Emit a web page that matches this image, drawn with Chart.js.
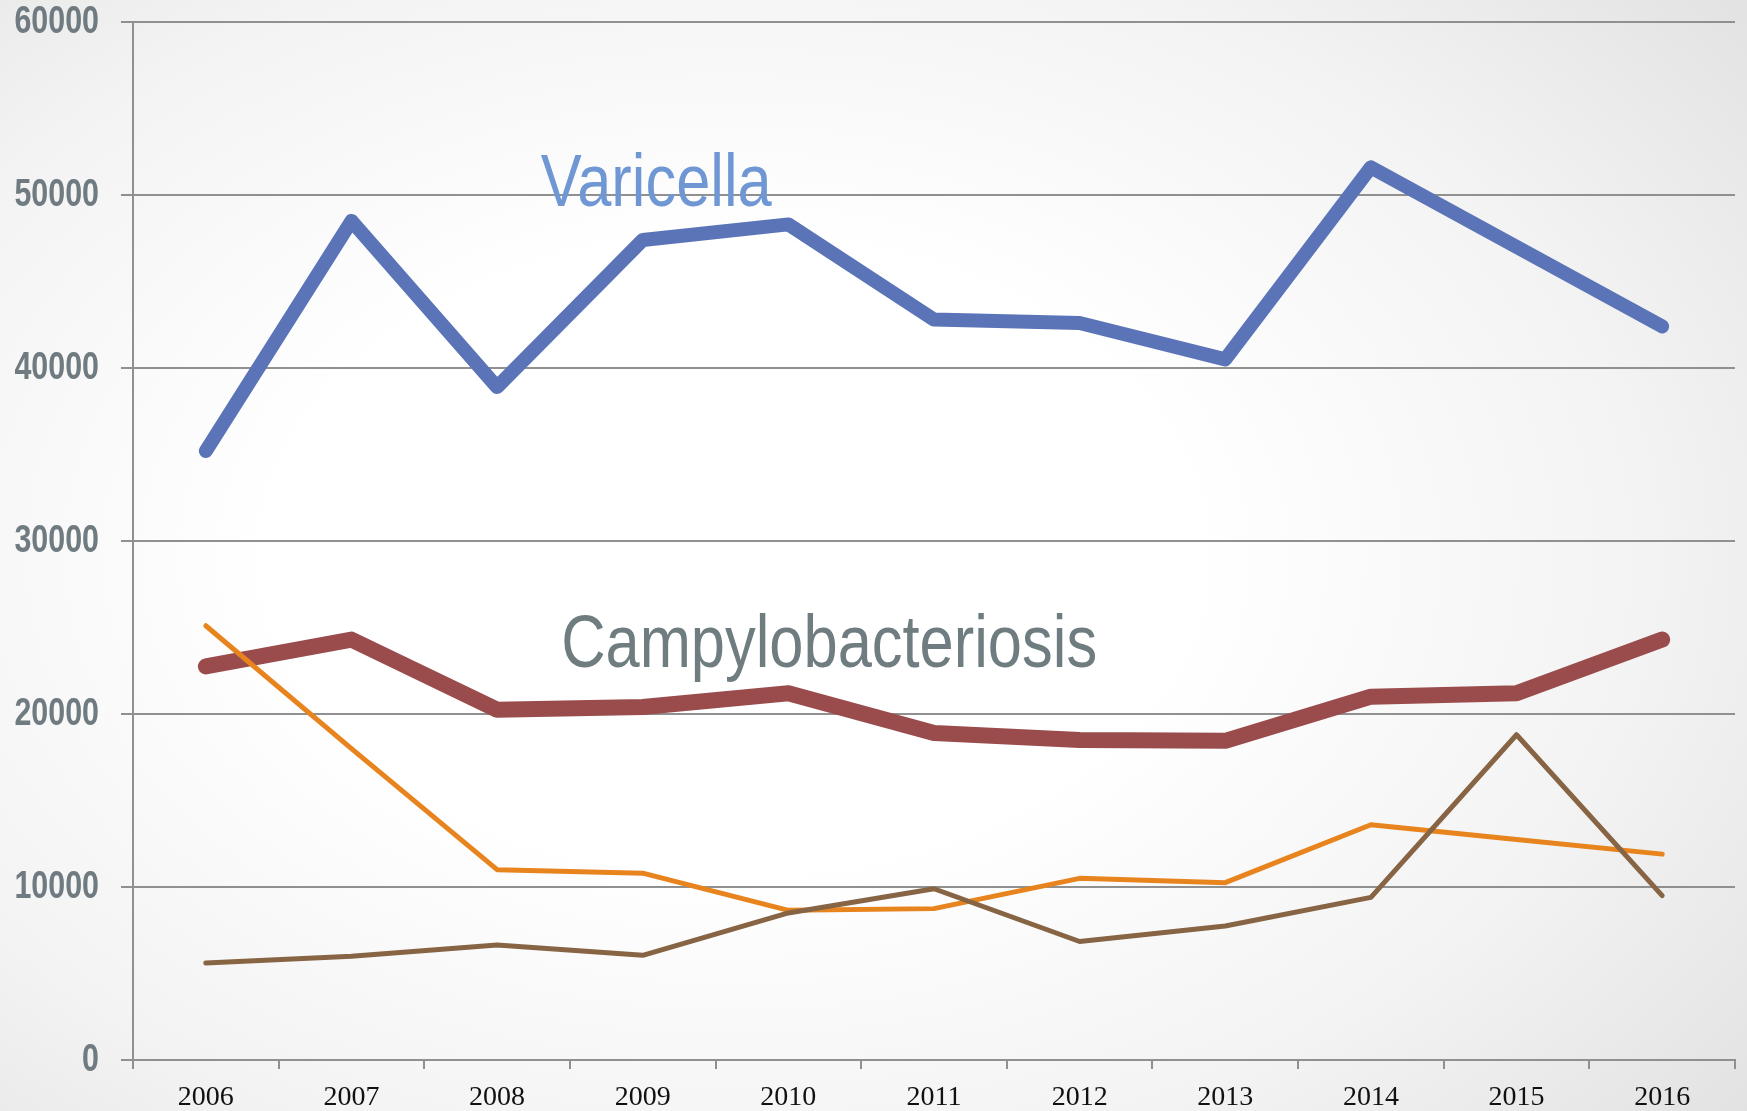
<!DOCTYPE html>
<html>
<head>
<meta charset="utf-8">
<script src="https://cdn.jsdelivr.net/npm/chart.js@4/dist/chart.umd.min.js"></script>
<style>
  html, body { margin: 0; padding: 0; overflow: hidden; }
  body {
    width: 1747px; height: 1111px;
    background: radial-gradient(ellipse 75% 80% at 42% 50%, #ffffff 35%, #f3f3f3 70%, #e2e2e2 100%);
  }
  canvas { display: block; }
</style>
</head>
<body>
<canvas id="chart" width="1747" height="1111"></canvas>
<script>
    const years = ['2006', '2007', '2008', '2009', '2010', '2011', '2012', '2013', '2014', '2015', '2016'];
    const yTicks = [0, 10000, 20000, 30000, 40000, 50000, 60000];

    const varicella = [35200, 48500, 38900, 47400, 48300, 42800, 42600, 40500, 51600, 47000, 42400];
    const campylobacteriosis = [22750, 24300, 20250, 20400, 21200, 18900, 18500, 18450, 21000, 21200, 24300];
    const series3 = [25100, 18000, 11000, 10800, 8650, 8750, 10500, 10250, 13600, 12750, 11900];
    const series4 = [5600, 6000, 6650, 6050, 8500, 9900, 6850, 7750, 9400, 18800, 9500];

    // text labels on the plot: [text, category position, value at baseline, colour]
    const seriesLabels = [
        ['Varicella', 2.3, 49350, '#6f97d4'],
        ['Campylobacteriosis', 2.44, 22700, '#6f7c80']
    ];

    const gridColor = '#909090';
    // no narrow font installed, so squeeze the text horizontally
    const narrow = 0.83;

    const labelPlugin = {
        id: 'seriesLabels',
        beforeDatasetsDraw(chart) {
            const ctx = chart.ctx;
            const x = chart.scales.x;
            const y = chart.scales.y;
            ctx.save();
            ctx.font = '74px "Liberation Sans", Arial, sans-serif';
            ctx.textAlign = 'left';
            ctx.textBaseline = 'alphabetic';
            seriesLabels.forEach(([text, pos, val, color]) => {
                ctx.save();
                ctx.fillStyle = color;
                ctx.translate(x.getPixelForValue(pos), y.getPixelForValue(val));
                ctx.scale(narrow, 1);
                ctx.fillText(text, 0, 0);
                ctx.restore();
            });

            // y tick labels
            ctx.font = 'bold 38px "Liberation Sans", Arial, sans-serif';
            ctx.fillStyle = '#6f7b80';
            ctx.textAlign = 'right';
            ctx.textBaseline = 'middle';
            y.ticks.forEach(t => {
                ctx.save();
                ctx.translate(y.right - 12 - 22, y.getPixelForValue(t.value) + 1);
                ctx.scale(0.8, 1);
                ctx.fillText(String(t.value), 0, 0);
                ctx.restore();
            });
            ctx.restore();
        }
    };

    function line(label, data, color, width, order) {
        return {
            label: label,
            data: data,
            borderColor: color,
            backgroundColor: color,
            borderWidth: width,
            borderCapStyle: 'round',
            borderJoinStyle: 'round',
            pointRadius: 0,
            tension: 0,
            fill: false,
            order: order
        };
    }

    new Chart(document.getElementById('chart'), {
        type: 'line',
        data: {
            labels: years,
            datasets: [
                line('Varicella', varicella, '#5b74b8', 14, 4),
                line('Campylobacteriosis', campylobacteriosis, '#9a4c4c', 16, 3),
                line('Series3', series3, '#e8841e', 5, 2),
                line('Series4', series4, '#876443', 5, 1)
            ]
        },
        options: {
            responsive: false,
            animation: false,
            layout: { padding: { top: 22, right: 12, left: 0, bottom: 0 } },
            plugins: {
                legend: { display: false },
                tooltip: { enabled: false }
            },
            scales: {
                x: {
                    offset: true,
                    grid: {
                        display: true,
                        offset: true,
                        drawOnChartArea: false,
                        drawTicks: true,
                        tickLength: 9,
                        color: gridColor,
                        lineWidth: 2
                    },
                    border: { display: true, color: gridColor, width: 2 },
                    ticks: {
                        color: '#111111',
                        padding: 12,
                        maxRotation: 0,
                        font: { family: '"Liberation Serif", "Times New Roman", serif', size: 28 }
                    },
                    afterFit(axis) { axis.height = 51; }
                },
                y: {
                    min: 0,
                    max: 60000,
                    afterBuildTicks(axis) { axis.ticks = yTicks.map(v => ({ value: v })); },
                    grid: {
                        color: gridColor,
                        lineWidth: 2,
                        drawTicks: true,
                        tickLength: 12
                    },
                    border: { display: true, color: gridColor, width: 2 },
                    ticks: { display: false },
                    afterFit(axis) { axis.width = 133; }
                }
            }
        },
        plugins: [labelPlugin]
    });
</script>
</body>
</html>
